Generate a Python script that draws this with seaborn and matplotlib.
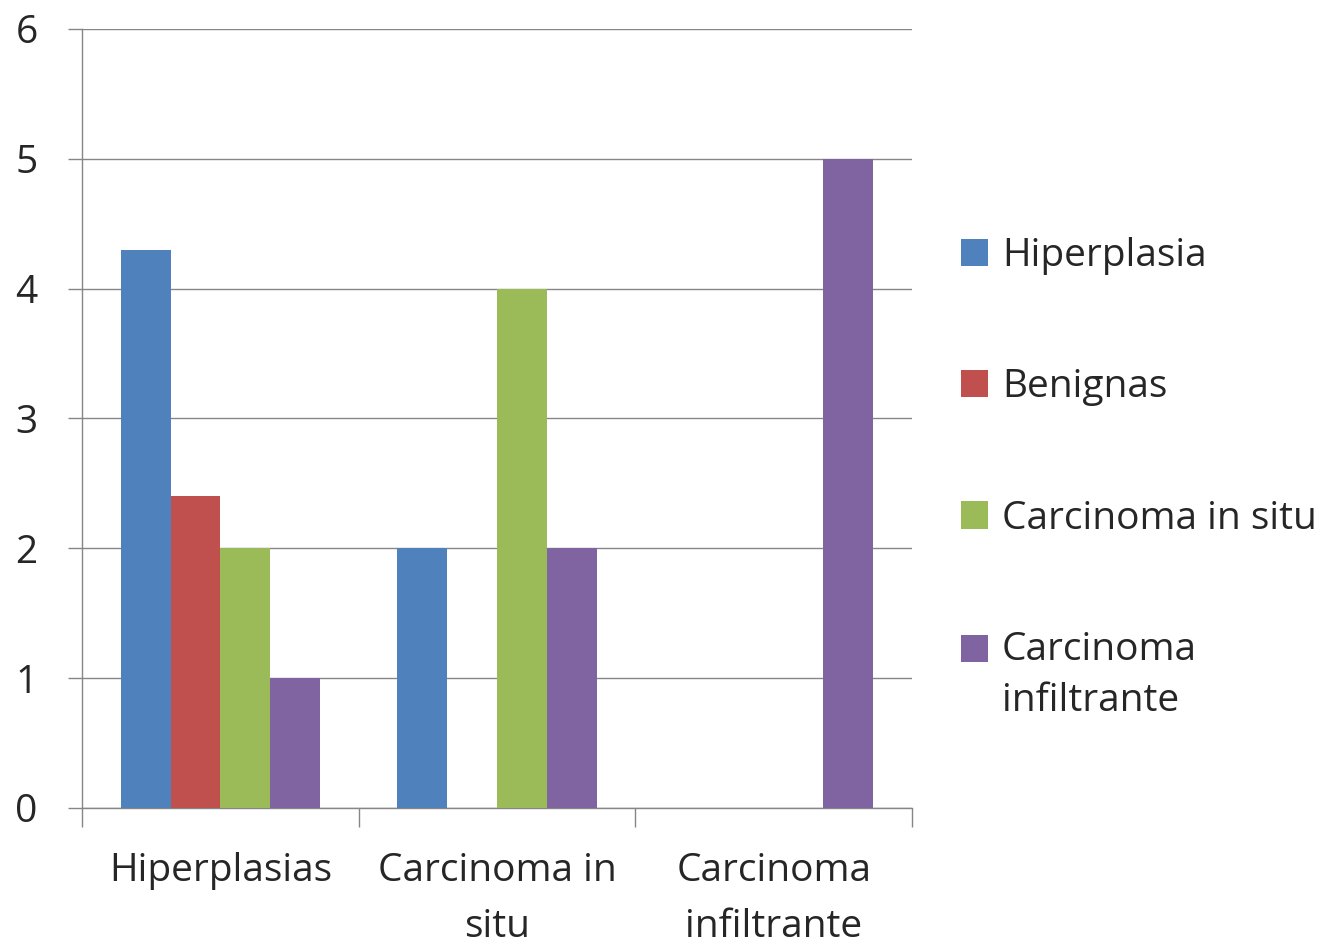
import pandas as pd
import seaborn as sns
import numpy as np
import matplotlib.pyplot as plt

categories = ['Hiperplasias', 'Carcinoma in\nsitu', 'Carcinoma\ninfiltrante']
series = ['Hiperplasia', 'Benignas', 'Carcinoma in situ', 'Carcinoma\ninfiltrante']
hiperplasia = [4.3, 2, 0]
benignas = [2.4, 0, 0]
carcinoma_in_situ = [2, 4, 0]
carcinoma_infiltrante = [1, 2, 5]
colors = ['#4F81BD', '#C0504D', '#9BBB59', '#8064A2']

rows = []
for name, vals in zip(series, [hiperplasia, benignas, carcinoma_in_situ, carcinoma_infiltrante]):
    for cat, v in zip(categories, vals):
        rows.append({'cat': cat, 'serie': name, 'valor': v})
df = pd.DataFrame(rows)

sns.set_style('white')
plt.rcParams['font.family'] = ['Open Sans', 'DejaVu Sans']

fig = plt.figure(figsize=(13.42, 9.44), dpi=100)
ax = fig.add_axes([0.0611, 0.1441, 0.6185, 0.8252])
sns.barplot(data=df, x='cat', y='valor', hue='serie', palette=colors,
            width=0.72, saturation=1, linewidth=0, ax=ax, zorder=3)

ax.set_ylim(0, 6)
ax.set_xlim(-0.5, 2.5)
ax.set_yticks(range(7))
ax.yaxis.grid(True, color='#868686', linewidth=1, zorder=0)
ax.set_axisbelow(True)
for s in ['top', 'right']:
    ax.spines[s].set_visible(False)
for s in ['left', 'bottom']:
    ax.spines[s].set_color('#868686')
    ax.spines[s].set_linewidth(1)

ax.set_xticks([-0.5, 0.5, 1.5, 2.5])
ax.set_xticklabels([])
ax.set_xticks([0, 1, 2], minor=True)
ax.set_xticklabels(categories, minor=True, fontsize=28, linespacing=1.6)
ax.tick_params(axis='x', which='major', length=14, color='#868686', width=1, direction='out', bottom=True)
ax.tick_params(axis='x', which='minor', length=0, pad=32)
ax.tick_params(axis='y', length=10, color='#868686', width=1, direction='out', left=True, labelsize=28, pad=22)
ax.set_xlabel('')
ax.set_ylabel('')

handles, labels = ax.get_legend_handles_labels()
leg = ax.legend(handles, labels, loc='upper left', bbox_to_anchor=(0.69, 0.786),
                bbox_transform=fig.transFigure, frameon=False,
                fontsize=28, handlelength=0.7, handleheight=0.7, handletextpad=0.35,
                labelspacing=2.4)
for t in leg.get_texts():
    t.set_linespacing(1.45)

# square of the two-line entry goes next to its first line, as in the reference
last = leg.legend_handles[3]
last.set_y(last.get_y() + 20)

fig.savefig('out.png', dpi=100)
